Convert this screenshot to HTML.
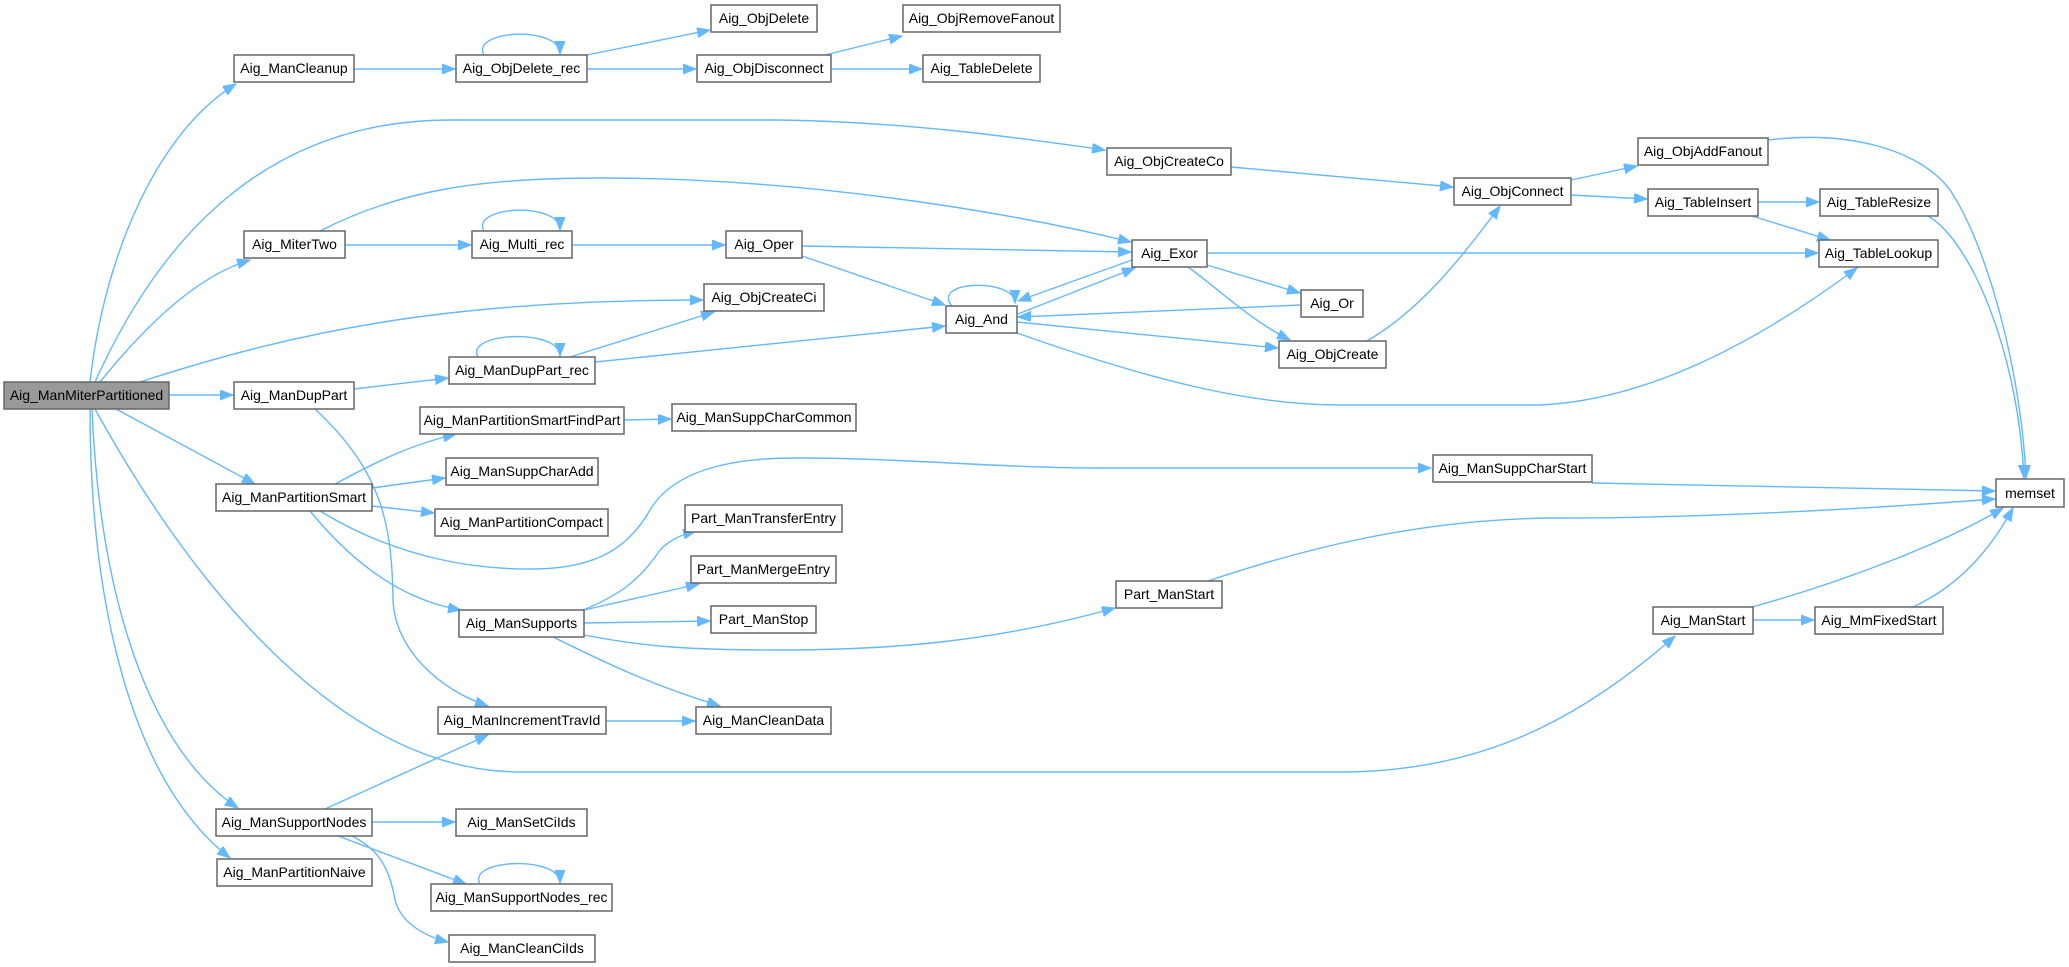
<!DOCTYPE html>
<html><head><meta charset="utf-8"><style>
html,body{margin:0;padding:0;background:#fff;}
svg{display:block;}
text{font-family:"Liberation Sans",Arial,sans-serif;font-size:14px;fill:#000;}
.e{fill:none;stroke:#63b8ff;stroke-width:1.4;marker-end:url(#a);}
.n{fill:#fff;stroke:#666;stroke-width:1.5;}
</style></head><body>
<svg width="2069" height="967" viewBox="0 0 2069 967" xmlns="http://www.w3.org/2000/svg">
<defs><marker id="a" markerUnits="userSpaceOnUse" markerWidth="14" markerHeight="11" refX="13" refY="5" orient="auto"><path d="M0,0 L13,5 L0,10 z" fill="#63b8ff" stroke="#63b8ff"/></marker></defs>
<g>
<path class="e" d="M90,382 C105,250 160,130 236,84"/>
<path class="e" d="M95,382 C150,260 250,120 450,120 L780,120 C900,122 1000,135 1105,150"/>
<path class="e" d="M100,382 C150,320 200,275 250,260"/>
<path class="e" d="M140,382 C300,330 450,300 703,300"/>
<path class="e" d="M169,395 L233,395"/>
<path class="e" d="M116,409 L255,484"/>
<path class="e" d="M95,409 C200,600 350,772 520,772 L1340,772 C1480,772 1580,720 1675,636"/>
<path class="e" d="M92,409 C100,600 150,750 238,808"/>
<path class="e" d="M90,409 C90,600 130,780 230,858"/>
<path class="e" d="M354,69 L455,69"/>
<path class="e" d="M484,55 C470,30 560,25 560,54"/>
<path class="e" d="M587,55 L710,30"/>
<path class="e" d="M587,69 L696,69"/>
<path class="e" d="M825,55 L902,36"/>
<path class="e" d="M831,69 L922,69"/>
<path class="e" d="M320,231 C400,190 480,178 600,178 C800,178 1000,210 1131,242"/>
<path class="e" d="M345,245 L471,245"/>
<path class="e" d="M484,231 C470,206 560,201 560,230"/>
<path class="e" d="M572,245 L725,245"/>
<path class="e" d="M802,246 L1020,250 L1131,252"/>
<path class="e" d="M802,256 L945,305"/>
<path class="e" d="M354,389 L448,378"/>
<path class="e" d="M315,409 C380,470 392,520 393,600 C395,650 440,690 488,706"/>
<path class="e" d="M478,357 C464,332 560,328 560,356"/>
<path class="e" d="M570,357 L714,312"/>
<path class="e" d="M595,362 L945,326"/>
<path class="e" d="M952,306 C930,280 1015,278 1015,303"/>
<path class="e" d="M1132,260 L1018,301"/>
<path class="e" d="M1018,314 L1135,268"/>
<path class="e" d="M1301,305 L1018,317"/>
<path class="e" d="M1017,322 L1278,348"/>
<path class="e" d="M1017,333 C1150,380 1250,405 1340,405 L1540,405 C1650,400 1760,340 1857,268"/>
<path class="e" d="M1207,253 L1818,253"/>
<path class="e" d="M1207,265 L1300,293"/>
<path class="e" d="M1188,267 C1220,290 1250,320 1290,340"/>
<path class="e" d="M1367,341 C1420,310 1460,260 1500,206"/>
<path class="e" d="M1231,167 L1453,187"/>
<path class="e" d="M1571,180 L1637,166"/>
<path class="e" d="M1571,195 L1647,199"/>
<path class="e" d="M1758,202 L1819,202"/>
<path class="e" d="M1752,216 L1830,240"/>
<path class="e" d="M1768,140 C1850,130 1920,150 1950,190 C1990,250 2022,380 2026,478"/>
<path class="e" d="M1928,216 C1970,240 2018,350 2024,478"/>
<path class="e" d="M1592,483 L1995,491"/>
<path class="e" d="M1208,581 C1300,550 1420,518 1560,518 C1700,518 1850,510 1995,499"/>
<path class="e" d="M1752,607 C1850,580 1950,540 2003,508"/>
<path class="e" d="M1753,620 L1814,620"/>
<path class="e" d="M1913,607 C1960,585 1990,550 2013,508"/>
<path class="e" d="M335,484 C380,460 410,445 456,434"/>
<path class="e" d="M624,420 L671,419"/>
<path class="e" d="M372,488 L445,478"/>
<path class="e" d="M372,506 L434,513"/>
<path class="e" d="M320,511 C400,560 480,570 536,569 C600,568 630,545 650,510 C680,460 760,458 800,458 C900,458 1000,468 1100,468 L1431,468"/>
<path class="e" d="M310,511 C350,560 400,600 461,610"/>
<path class="e" d="M583,610 C620,595 640,580 660,550 C670,540 680,535 696,531"/>
<path class="e" d="M584,610 L699,584"/>
<path class="e" d="M584,623 L710,621"/>
<path class="e" d="M584,635 C650,648 700,650 780,650 C900,650 1000,640 1115,608"/>
<path class="e" d="M553,637 C600,660 650,685 720,706"/>
<path class="e" d="M606,721 L695,721"/>
<path class="e" d="M325,809 L488,735"/>
<path class="e" d="M372,822 L455,822"/>
<path class="e" d="M338,836 L466,884"/>
<path class="e" d="M352,836 C380,850 390,870 395,900 C400,920 420,935 448,942"/>
<path class="e" d="M480,884 C466,859 560,855 560,883"/>
</g>
<g>
<rect x="4" y="382" width="165" height="27" fill="#999" stroke="#666" stroke-width="1.5"/><text x="86.5" y="400" text-anchor="middle">Aig_ManMiterPartitioned</text>
<rect class="n" x="234" y="55" width="120" height="27"/><text x="294" y="73" text-anchor="middle">Aig_ManCleanup</text>
<rect class="n" x="456" y="55" width="131" height="27"/><text x="521.5" y="73" text-anchor="middle">Aig_ObjDelete_rec</text>
<rect class="n" x="711" y="5" width="106" height="27"/><text x="764" y="23" text-anchor="middle">Aig_ObjDelete</text>
<rect class="n" x="697" y="55" width="134" height="27"/><text x="764" y="73" text-anchor="middle">Aig_ObjDisconnect</text>
<rect class="n" x="903" y="5" width="157" height="27"/><text x="981.5" y="23" text-anchor="middle">Aig_ObjRemoveFanout</text>
<rect class="n" x="923" y="55" width="117" height="27"/><text x="981.5" y="73" text-anchor="middle">Aig_TableDelete</text>
<rect class="n" x="244" y="231" width="101" height="27"/><text x="294.5" y="249" text-anchor="middle">Aig_MiterTwo</text>
<rect class="n" x="472" y="231" width="100" height="27"/><text x="522" y="249" text-anchor="middle">Aig_Multi_rec</text>
<rect class="n" x="726" y="231" width="76" height="27"/><text x="764" y="249" text-anchor="middle">Aig_Oper</text>
<rect class="n" x="704" y="284" width="120" height="27"/><text x="764" y="302" text-anchor="middle">Aig_ObjCreateCi</text>
<rect class="n" x="946" y="306" width="71" height="27"/><text x="981.5" y="324" text-anchor="middle">Aig_And</text>
<rect class="n" x="234" y="382" width="120" height="27"/><text x="294" y="400" text-anchor="middle">Aig_ManDupPart</text>
<rect class="n" x="449" y="357" width="146" height="27"/><text x="522" y="375" text-anchor="middle">Aig_ManDupPart_rec</text>
<rect class="n" x="420" y="407" width="204" height="27"/><text x="522" y="425" text-anchor="middle">Aig_ManPartitionSmartFindPart</text>
<rect class="n" x="672" y="404" width="184" height="27"/><text x="764" y="422" text-anchor="middle">Aig_ManSuppCharCommon</text>
<rect class="n" x="446" y="458" width="152" height="27"/><text x="522" y="476" text-anchor="middle">Aig_ManSuppCharAdd</text>
<rect class="n" x="216" y="484" width="156" height="27"/><text x="294" y="502" text-anchor="middle">Aig_ManPartitionSmart</text>
<rect class="n" x="435" y="509" width="173" height="27"/><text x="521.5" y="527" text-anchor="middle">Aig_ManPartitionCompact</text>
<rect class="n" x="685" y="505" width="157" height="27"/><text x="763.5" y="523" text-anchor="middle">Part_ManTransferEntry</text>
<rect class="n" x="691" y="556" width="145" height="27"/><text x="763.5" y="574" text-anchor="middle">Part_ManMergeEntry</text>
<rect class="n" x="459" y="610" width="125" height="27"/><text x="521.5" y="628" text-anchor="middle">Aig_ManSupports</text>
<rect class="n" x="711" y="606" width="105" height="27"/><text x="763.5" y="624" text-anchor="middle">Part_ManStop</text>
<rect class="n" x="438" y="707" width="168" height="27"/><text x="522" y="725" text-anchor="middle">Aig_ManIncrementTravId</text>
<rect class="n" x="696" y="707" width="135" height="27"/><text x="763.5" y="725" text-anchor="middle">Aig_ManCleanData</text>
<rect class="n" x="216" y="809" width="156" height="27"/><text x="294" y="827" text-anchor="middle">Aig_ManSupportNodes</text>
<rect class="n" x="456" y="809" width="131" height="27"/><text x="521.5" y="827" text-anchor="middle">Aig_ManSetCiIds</text>
<rect class="n" x="217" y="859" width="155" height="27"/><text x="294.5" y="877" text-anchor="middle">Aig_ManPartitionNaive</text>
<rect class="n" x="431" y="884" width="181" height="27"/><text x="521.5" y="902" text-anchor="middle">Aig_ManSupportNodes_rec</text>
<rect class="n" x="449" y="935" width="146" height="27"/><text x="522" y="953" text-anchor="middle">Aig_ManCleanCiIds</text>
<rect class="n" x="1107" y="148" width="124" height="27"/><text x="1169" y="166" text-anchor="middle">Aig_ObjCreateCo</text>
<rect class="n" x="1132" y="240" width="75" height="27"/><text x="1169.5" y="258" text-anchor="middle">Aig_Exor</text>
<rect class="n" x="1301" y="290" width="62" height="27"/><text x="1332" y="308" text-anchor="middle">Aig_Or</text>
<rect class="n" x="1279" y="341" width="107" height="27"/><text x="1332.5" y="359" text-anchor="middle">Aig_ObjCreate</text>
<rect class="n" x="1433" y="455" width="159" height="27"/><text x="1512.5" y="473" text-anchor="middle">Aig_ManSuppCharStart</text>
<rect class="n" x="1116" y="581" width="106" height="27"/><text x="1169" y="599" text-anchor="middle">Part_ManStart</text>
<rect class="n" x="1454" y="178" width="117" height="27"/><text x="1512.5" y="196" text-anchor="middle">Aig_ObjConnect</text>
<rect class="n" x="1638" y="138" width="130" height="27"/><text x="1703" y="156" text-anchor="middle">Aig_ObjAddFanout</text>
<rect class="n" x="1648" y="189" width="110" height="27"/><text x="1703" y="207" text-anchor="middle">Aig_TableInsert</text>
<rect class="n" x="1820" y="189" width="118" height="27"/><text x="1879" y="207" text-anchor="middle">Aig_TableResize</text>
<rect class="n" x="1819" y="240" width="119" height="27"/><text x="1878.5" y="258" text-anchor="middle">Aig_TableLookup</text>
<rect class="n" x="1996" y="479" width="68" height="28"/><text x="2030" y="498" text-anchor="middle">memset</text>
<rect class="n" x="1653" y="607" width="100" height="27"/><text x="1703" y="625" text-anchor="middle">Aig_ManStart</text>
<rect class="n" x="1815" y="607" width="128" height="27"/><text x="1879" y="625" text-anchor="middle">Aig_MmFixedStart</text>
</g>
</svg>
</body></html>
